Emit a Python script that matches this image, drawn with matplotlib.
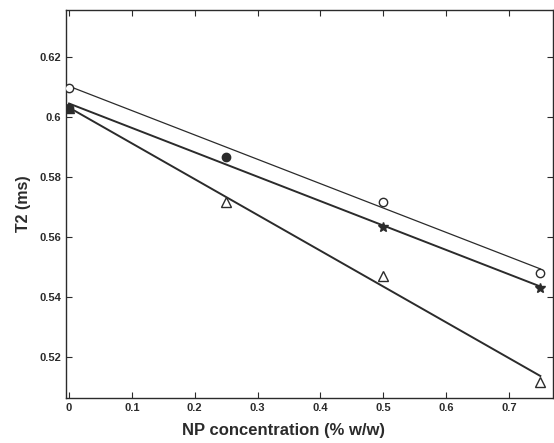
import numpy as np
import matplotlib
matplotlib.use("Agg")
import matplotlib.pyplot as plt
from matplotlib.ticker import FuncFormatter

plt.rcParams['font.family'] = ['Liberation Sans', 'DejaVu Sans']

# data
conc = [0.0, 0.25, 0.5, 0.75]
t2_open_circle_x = [0.0, 0.5, 0.75]
t2_open_circle = [0.6096, 0.5717, 0.548]
t2_filled = [0.603, 0.5867, 0.5633, 0.543]
t2_triangle = [0.603, 0.5718, 0.547, 0.5118]

xticks = [0, 0.1, 0.2, 0.3, 0.4, 0.5, 0.6, 0.7]
yticks = [0.52, 0.54, 0.56, 0.58, 0.6, 0.62]

ink = '#2b2b2b'

fig = plt.figure(figsize=(5.54, 4.43), dpi=100)
ax = fig.add_axes([0.119, 0.1016, 0.879, 0.8758])

xfit = np.array([0.0, 0.75])

# linear fits for each series
for xs, ys, lw in [(t2_open_circle_x, t2_open_circle, 0.9),
                   (conc, t2_filled, 1.4),
                   (conc, t2_triangle, 1.4)]:
    p = np.polyfit(xs, ys, 1)
    ax.plot(xfit, np.polyval(p, xfit), color=ink, lw=lw, zorder=2)

ax.plot(t2_open_circle_x, t2_open_circle, 'o', ms=6, mfc='white', mec=ink, mew=1.0, zorder=3)
ax.plot(conc[:2], t2_filled[:2], 'o', ms=6, mfc=ink, mec=ink, zorder=3)
ax.plot(conc[2:], t2_filled[2:], '*', ms=7, mfc=ink, mec=ink, zorder=3)
ax.plot(conc[1:], t2_triangle[1:], '^', ms=7, mfc='white', mec=ink, mew=1.0, zorder=3)
ax.plot(conc[:1], t2_triangle[:1], '^', ms=7, mfc=ink, mec=ink, zorder=4)

ax.set_xlim(-0.005, 0.77)
ax.set_ylim(0.5063, 0.6357)
ax.set_xticks(xticks)
ax.set_yticks(yticks)
ax.xaxis.set_major_formatter(FuncFormatter(lambda v, _: '%g' % v))
ax.yaxis.set_major_formatter(FuncFormatter(lambda v, _: '%g' % v))
ax.tick_params(direction='in', top=True, right=True, length=4, width=0.8,
               colors=ink, labelsize=8)
for lab in ax.get_xticklabels() + ax.get_yticklabels():
    lab.set_fontweight('bold')
for s in ax.spines.values():
    s.set_color(ink)
    s.set_linewidth(1.0)

ax.set_xlabel('NP concentration (% w/w)', fontsize=12, fontweight='bold', color=ink)
ax.xaxis.set_label_coords(0.446, -0.065)
ax.set_ylabel('T2 (ms)', fontsize=11.5, fontweight='bold', color=ink, labelpad=6)

fig.savefig('out.png', dpi=100)
